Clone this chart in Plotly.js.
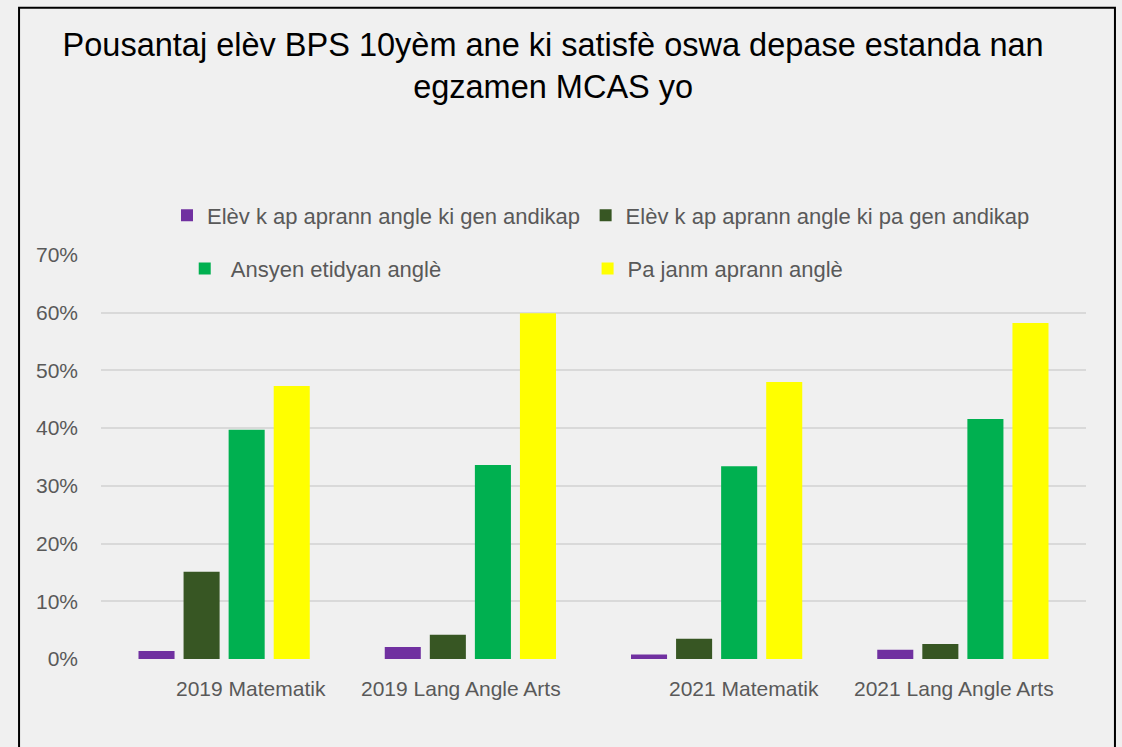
<!DOCTYPE html>
<html>
<head>
<meta charset="utf-8">
<script src="https://cdn.plot.ly/plotly-3.0.1.min.js"></script>
<style>html,body{margin:0;padding:0;background:#f0f0f0;}</style>
</head>
<body>
<div id="chart" style="width:1122px;height:747px;"></div>
<script>
// ---- data ----
const categories = ["2019 Matematik", "2019 Lang Angle Arts", "2021 Matematik", "2021 Lang Angle Arts"];
const seriesNames = [
  "Elèv k ap aprann angle ki gen andikap",
  "Elèv k ap aprann angle ki pa gen andikap",
  "\u00a0Ansyen etidyan anglè",
  "Pa janm aprann anglè"
];
const elGenAndikap    = [0.014, 0.021, 0.008, 0.016];
const elPaGenAndikap  = [0.151, 0.042, 0.035, 0.026];
const ansyenEtidyan   = [0.397, 0.336, 0.334, 0.416];
const paJanmAprann    = [0.473, 0.599, 0.480, 0.582];
const yTickVals = [0, 0.1, 0.2, 0.3, 0.4, 0.5, 0.6, 0.7];
const yTickText = ["0%", "10%", "20%", "30%", "40%", "50%", "60%", "70%"];

// ---- styles ----
const colors = ["#7030A0", "#375623", "#00B050", "#FFFF00"];
const seriesValues = [elGenAndikap, elPaGenAndikap, ansyenEtidyan, paJanmAprann];
const legendIds = ["legend", "legend2", "legend3", "legend4"];
const FONT = "Liberation Sans, Arial, sans-serif";
const GREY = "#595959";

const traces = seriesValues.map((vals, i) => ({
  type: "bar",
  x: categories,
  y: vals,
  name: seriesNames[i],
  marker: {color: colors[i]},
  legend: legendIds[i],
  hoverinfo: "skip"
}));

const legendBase = {
  orientation: "h",
  bgcolor: "rgba(0,0,0,0)",
  borderwidth: 0,
  font: {family: FONT, size: 22, color: GREY},
  xanchor: "left",
  yanchor: "middle",
  itemwidth: 30,
  traceorder: "normal"
};
const legendPos = [[0.067, 1.098], [0.492, 1.098], [0.085, 0.966], [0.494, 0.966]];

const labelShift = [27, -9, 27, -9];
const annotations = categories.map((c, i) => ({
  x: c, xref: "x", y: 0, yref: "paper",
  yanchor: "top", xanchor: "center",
  yshift: -16, xshift: labelShift[i],
  text: c, showarrow: false,
  font: {family: FONT, size: 21, color: GREY}
}));

const layout = {
  width: 1122, height: 747,
  paper_bgcolor: "#f0f0f0",
  plot_bgcolor: "#f0f0f0",
  margin: {l: 101, r: 36, t: 255, b: 88},
  font: {family: FONT, color: GREY},
  title: {
    text: "Pousantaj elèv BPS 10yèm ane ki satisfè oswa depase estanda nan<br>egzamen MCAS yo",
    font: {family: FONT, size: 32.5, color: "#000000"},
    x: 0.493, xanchor: "center",
    y: 0.925, yref: "container", yanchor: "top"
  },
  barmode: "group",
  bargap: 0.268,
  bargroupgap: 0.2,
  xaxis: {
    type: "category",
    showticklabels: false,
    showgrid: false,
    zeroline: false,
    showline: false,
    ticks: ""
  },
  yaxis: {
    range: [0, 0.7],
    tickvals: yTickVals,
    ticktext: yTickText,
    showgrid: true,
    gridcolor: "#d9d9d9",
    gridwidth: 2,
    zeroline: false,
    showline: false,
    ticks: "",
    ticklabelstandoff: 22,
    tickfont: {family: FONT, size: 21, color: GREY}
  },
  annotations: annotations,
  shapes: [{
    type: "rect", xref: "paper", yref: "paper",
    x0: -0.0832, x1: 1.0294, y0: -0.3, y1: 1.612,
    line: {color: "#000000", width: 2},
    fillcolor: "rgba(0,0,0,0)",
    layer: "above"
  }],
  showlegend: true
};
legendIds.forEach((id, i) => {
  layout[id] = Object.assign({}, legendBase, {x: legendPos[i][0], y: legendPos[i][1]});
});

Plotly.newPlot("chart", traces, layout, {displayModeBar: false, staticPlot: true});
</script>
</body>
</html>
